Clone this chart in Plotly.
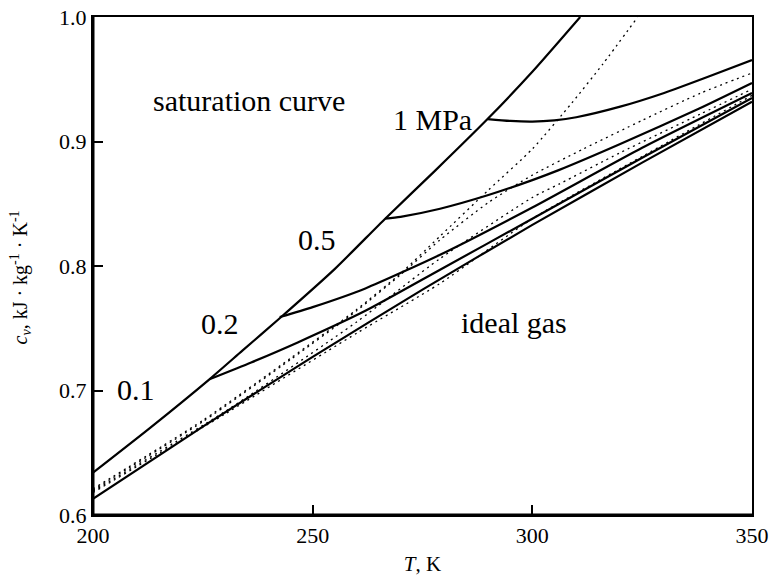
import plotly.graph_objects as go

# ---- data (T in K, cv in kJ/(kg K)) ----
sat_T = [200, 213, 226.5, 234, 242.5, 255, 266.5, 278, 289.8, 300, 310.9]
sat_cv = [0.634, 0.670, 0.709, 0.732, 0.758, 0.7975, 0.838, 0.877, 0.918, 0.956, 1.0]

p1_T = [289.8, 295, 300, 305, 310, 320, 330, 340, 350]
p1_cv = [0.918, 0.9165, 0.916, 0.917, 0.9195, 0.928, 0.939, 0.952, 0.9655]

p05_T = [266.5, 270, 279, 290, 300, 306, 320, 338, 350]
p05_cv = [0.838, 0.8395, 0.846, 0.857, 0.869, 0.877, 0.898, 0.9265, 0.947]

p02_T = [242.5, 250, 262, 279, 300, 325, 350]
p02_cv = [0.759, 0.767, 0.782, 0.809, 0.847, 0.895, 0.939]

p01_T = [226.5, 236, 246.6, 262, 279, 300, 325, 350]
p01_cv = [0.709, 0.7225, 0.7386, 0.764, 0.797, 0.838, 0.887, 0.935]

ideal_T = [200, 225, 250, 275, 300, 325, 350]
ideal_cv = [0.613, 0.671, 0.727, 0.781, 0.833, 0.883, 0.932]

d1_T = [200, 225, 245, 260, 270, 279, 290, 300, 309, 316, 324]
d1_cv = [0.621, 0.676, 0.726, 0.765, 0.794, 0.824, 0.861, 0.894, 0.931, 0.962, 1.0]

d2_T = [200, 225, 245, 260, 270, 279, 290, 300, 311.6, 325, 338.2, 350]
d2_cv = [0.620, 0.675, 0.725, 0.764, 0.793, 0.821, 0.851, 0.873, 0.894, 0.917, 0.9387, 0.955]

d3_T = [200, 230, 260, 279, 300, 306.2, 320, 338.2, 350]
d3_cv = [0.619, 0.683, 0.755, 0.806, 0.855, 0.866, 0.891, 0.922, 0.942]

d4_T = [200, 230, 260, 279, 300, 325, 350]
d4_cv = [0.618, 0.681, 0.746, 0.786, 0.838, 0.888, 0.937]

x_ticks = [200, 250, 300, 350]
y_ticks = [0.6, 0.7, 0.8, 0.9, 1.0]

# (text, T, cv)
labels = [
    ("saturation curve", 235.6, 0.933),
    ("1 MPa", 277.3, 0.918),
    ("0.5", 251.0, 0.821),
    ("0.2", 228.9, 0.754),
    ("0.1", 209.8, 0.701),
    ("ideal gas", 295.9, 0.755),
]

FONT = "Liberation Serif, Times New Roman, Times, serif"

fig = go.Figure()

solid = dict(color="black", width=2.2)
dot = dict(color="black", width=1.3, dash="2px,4px")

for T, cv in [(d1_T, d1_cv), (d2_T, d2_cv), (d3_T, d3_cv), (d4_T, d4_cv)]:
    fig.add_trace(go.Scatter(x=T, y=cv, mode="lines", line=dict(**dot, shape="spline", smoothing=0.6),
                             showlegend=False, hoverinfo="skip"))

for T, cv in [(sat_T, sat_cv), (p1_T, p1_cv), (p05_T, p05_cv), (p02_T, p02_cv),
              (p01_T, p01_cv), (ideal_T, ideal_cv)]:
    fig.add_trace(go.Scatter(x=T, y=cv, mode="lines", line=dict(**solid, shape="spline", smoothing=0.6),
                             showlegend=False, hoverinfo="skip"))

for text, T, cv in labels:
    fig.add_annotation(x=T, y=cv, text=text, showarrow=False,
                       font=dict(family=FONT, size=30, color="black"),
                       xanchor="center", yanchor="middle")

# y-axis title as a rotated annotation (placed slightly below the axis centre, as in the original)
fig.add_annotation(xref="paper", yref="paper", x=-0.11, y=0.476,
                   text="<i>c<sub>v</sub></i>, kJ · kg<sup>-1</sup> · K<sup>-1</sup>",
                   textangle=-90, showarrow=False, xanchor="center", yanchor="middle",
                   font=dict(family=FONT, size=20, color="black"))

# heavier left and bottom frame lines
fig.add_shape(type="line", xref="paper", yref="paper", x0=0, x1=0, y0=0, y1=1,
              line=dict(color="black", width=3))
fig.add_shape(type="line", xref="paper", yref="paper", x0=0, x1=1, y0=0, y1=0,
              line=dict(color="black", width=3))

fig.update_xaxes(range=[200, 350], tickvals=x_ticks, ticktext=[str(v) for v in x_ticks],
                 ticks="inside", ticklen=10, tickwidth=2, tickcolor="black",
                 showline=True, linecolor="black", linewidth=2, mirror=True,
                 showgrid=False, zeroline=False,
                 tickfont=dict(family=FONT, size=22, color="black"),
                 title=dict(text="<i>T</i>, K", font=dict(family=FONT, size=21, color="black"),
                            standoff=10))
fig.update_yaxes(range=[0.6, 1.0], tickvals=y_ticks, ticktext=[f"{v:.1f}" for v in y_ticks],
                 ticks="inside", ticklen=10, tickwidth=2, tickcolor="black",
                 showline=True, linecolor="black", linewidth=2, mirror=True,
                 showgrid=False, zeroline=False,
                 tickfont=dict(family=FONT, size=22, color="black"))

fig.update_layout(width=770, height=576, margin=dict(l=93, r=18, t=17, b=61, autoexpand=False),
                  plot_bgcolor="white", paper_bgcolor="white", showlegend=False)

fig.write_html("out.html", config={"displayModeBar": False},
               post_script="document.body.style.margin='0';")
